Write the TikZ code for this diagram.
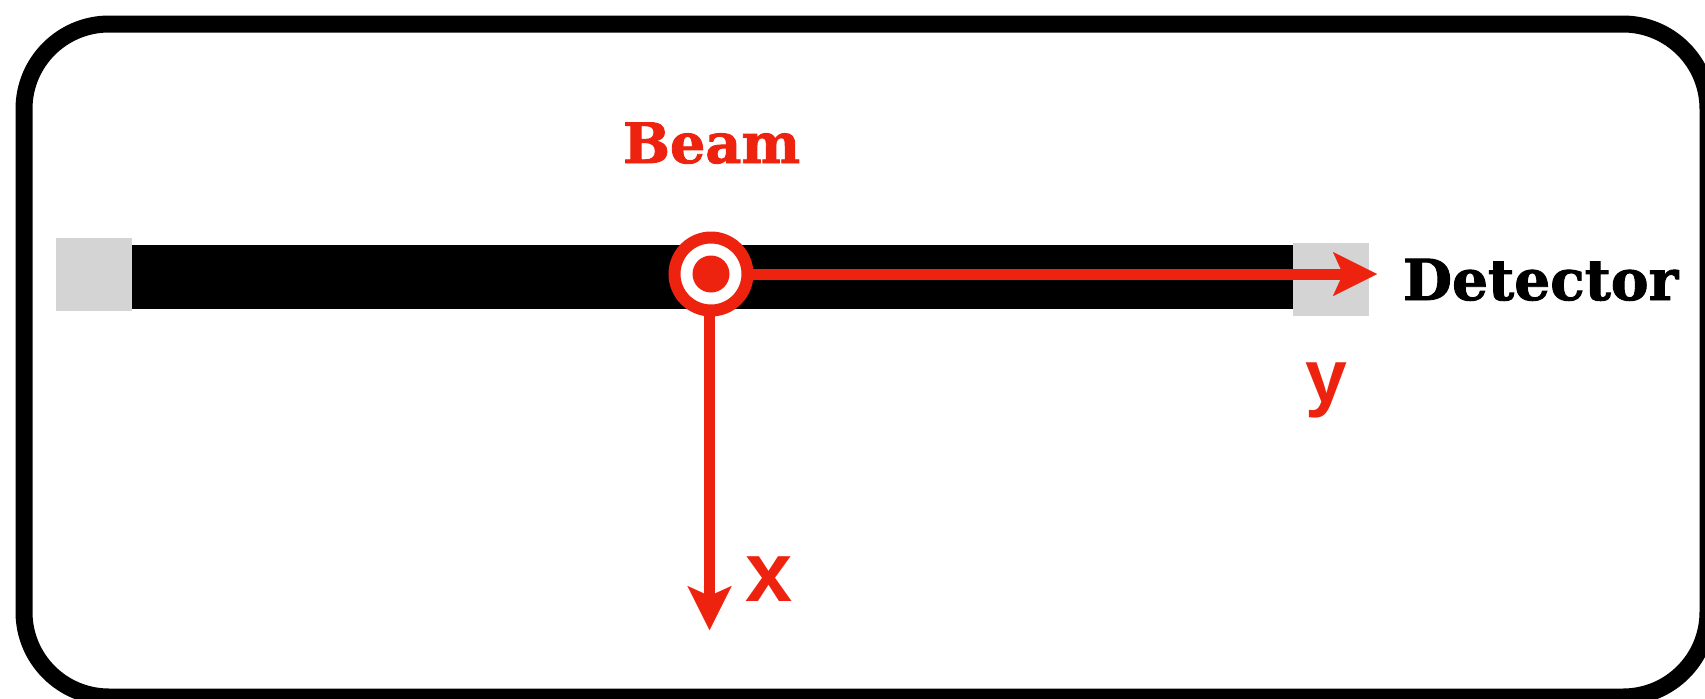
\documentclass[tikz,border=0pt]{standalone}
\usepackage{fontspec}
\usetikzlibrary{arrows.meta}
\newfontfamily\labelserif{DejaVu Serif Bold}[BoldFont={DejaVu Serif Bold}, BoldFeatures={FakeBold=1.6}]
\newfontfamily\axisfont{Liberation Sans}
\definecolor{beamred}{RGB}{238,35,15}
\definecolor{boxgray}{RGB}{212,212,212}
\tikzset{
  frame/.style={draw=black, line width=8.5pt, rounded corners=42.5pt},
  graybox/.style={fill=boxgray, draw=none, inner sep=0pt, outer sep=0pt},
  barstyle/.style={fill=black, draw=none, inner sep=0pt, outer sep=0pt},
  axis/.style={draw=beamred, line width=5.5pt,
    -{Stealth[length=22pt, width=22pt, inset=5pt, line width=0.01pt]}},
  ring/.style={circle, draw=beamred, fill=white, line width=6pt, minimum size=36.5pt, inner sep=0pt, outer sep=0pt},
  dot/.style={circle, fill=beamred, draw=none, minimum size=18.5pt, inner sep=0pt},
  txt/.style={inner sep=0pt, outer sep=0pt, anchor=base west},
}
\begin{document}
\begin{tikzpicture}[x=0.5pt, y=-0.5pt]
\useasboundingbox (0,0) rectangle (1705,698);
\begin{scope}
  \clip (0,0) rectangle (1705,698);
  \draw[frame] (24,24) rectangle (1708,697);
\end{scope}
% bar and detector boxes
\node[barstyle, minimum width=580.5pt, minimum height=32pt] (bar) at (712.5,277) {};
\node[graybox, minimum width=38pt, minimum height=36.5pt] (lbox) at (94,274.5) {};
\node[graybox, minimum width=38pt, minimum height=36.5pt] (rbox) at (1331,279.5) {};
% beam symbol
\node[ring] (ring) at (711,274) {};
\node[dot] (dot) at (ring.center) {};
\coordinate (ytip) at (1377,274);
\coordinate (xtip) at (709.5,630);
\draw[axis] (ring.east) -- (ytip);
\draw[axis] (ring.south -| xtip) -- (xtip);
% labels
\node[txt, text=beamred, font={\labelserif\bfseries\fontsize{27.8pt}{30pt}\selectfont}] (beam) at (623,163) {Beam};
\node[txt, text=black, font={\labelserif\bfseries\fontsize{28.3pt}{31pt}\selectfont}] (det) at (1403,300) {Detector};
\node[txt, text=beamred, font={\axisfont\bfseries\fontsize{42.4pt}{45pt}\selectfont}] (xl) at (745,601) {x};
\node[txt, text=beamred, font={\axisfont\bfseries\fontsize{37.6pt}{40pt}\selectfont}] (yl) at (1305,402) {y};
\end{tikzpicture}
\end{document}
